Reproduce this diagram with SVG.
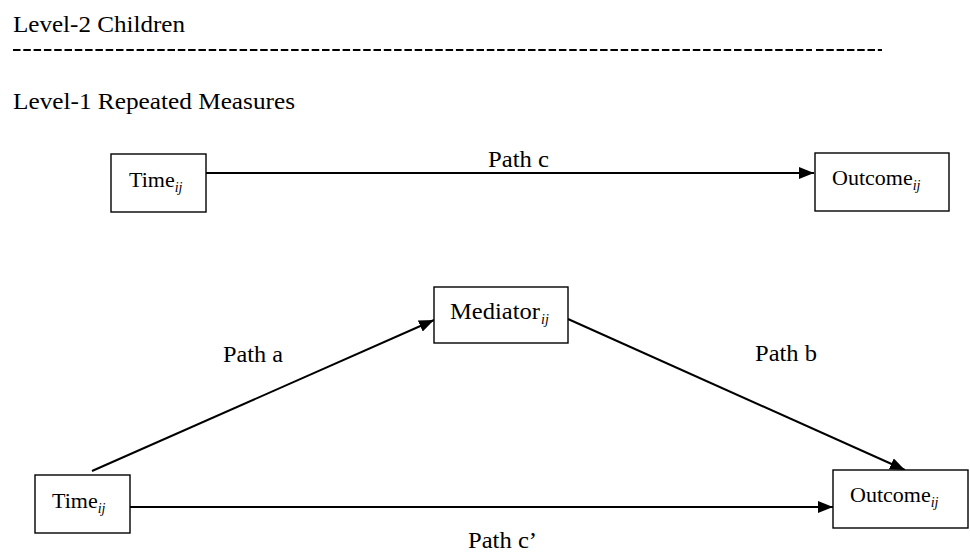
<svg xmlns="http://www.w3.org/2000/svg" width="970" height="554" viewBox="0 0 970 554">
<style>
text{font-family:"Liberation Serif","DejaVu Serif","Times New Roman",serif;font-size:22px;fill:#000}
.lbl{font-size:24px}
.sub{font-size:14px;font-style:italic}
.box{fill:#fff;stroke:#000;stroke-width:1.4}
.edge{stroke:#000;stroke-width:2;fill:none}
.dash{stroke:#000;stroke-width:2;stroke-dasharray:7.5 2.8}
</style>
<defs>
<marker id="ah" markerUnits="userSpaceOnUse" markerWidth="16" markerHeight="12" refX="15" refY="6" orient="auto">
<path d="M0,0 L15,6 L0,12 Z" fill="#000"/>
</marker>
</defs>
<g id="headers">
<text class="lbl" x="13" y="32" textLength="172" lengthAdjust="spacingAndGlyphs">Level-2 Children</text>
<line class="dash" x1="13" y1="50" x2="812" y2="50"/>
<line class="dash" x1="816" y1="50" x2="882" y2="50"/>
<text class="lbl" x="13" y="109" textLength="282" lengthAdjust="spacingAndGlyphs">Level-1 Repeated Measures</text>
</g>
<g id="connectors">
<line class="edge" x1="206" y1="173" x2="814" y2="173" marker-end="url(#ah)"/>
<line class="edge" x1="92" y1="471" x2="434" y2="320" marker-end="url(#ah)"/>
<line class="edge" x1="568" y1="319" x2="905" y2="470" marker-end="url(#ah)"/>
<line class="edge" x1="130" y1="507" x2="833" y2="507" marker-end="url(#ah)"/>
<text class="lbl" x="488" y="167" textLength="61" lengthAdjust="spacingAndGlyphs">Path c</text>
<text class="lbl" x="223" y="362" textLength="60" lengthAdjust="spacingAndGlyphs">Path a</text>
<text class="lbl" x="755" y="361" textLength="62" lengthAdjust="spacingAndGlyphs">Path b</text>
<text class="lbl" x="468" y="548" textLength="69" lengthAdjust="spacingAndGlyphs">Path c’</text>
</g>
<g id="time1">
<rect class="box" x="111" y="154" width="95" height="58"/>
<text x="129" y="187">Time<tspan class="sub" dy="5">ij</tspan></text>
</g>
<g id="outcome1">
<rect class="box" x="815" y="153" width="134" height="58"/>
<text x="832" y="185">Outcome<tspan class="sub" dy="5">ij</tspan></text>
</g>
<g id="mediator">
<rect class="box" x="434" y="287" width="134" height="56"/>
<text class="lbl" x="450" y="319" textLength="90" lengthAdjust="spacingAndGlyphs">Mediator</text><text x="541" y="324" class="sub">ij</text>
</g>
<g id="time2">
<rect class="box" x="35" y="475" width="95" height="58"/>
<text x="52" y="508">Time<tspan class="sub" dy="5">ij</tspan></text>
</g>
<g id="outcome2">
<rect class="box" x="833" y="470" width="135" height="58"/>
<text x="850" y="502">Outcome<tspan class="sub" dy="5">ij</tspan></text>
</g>
</svg>
